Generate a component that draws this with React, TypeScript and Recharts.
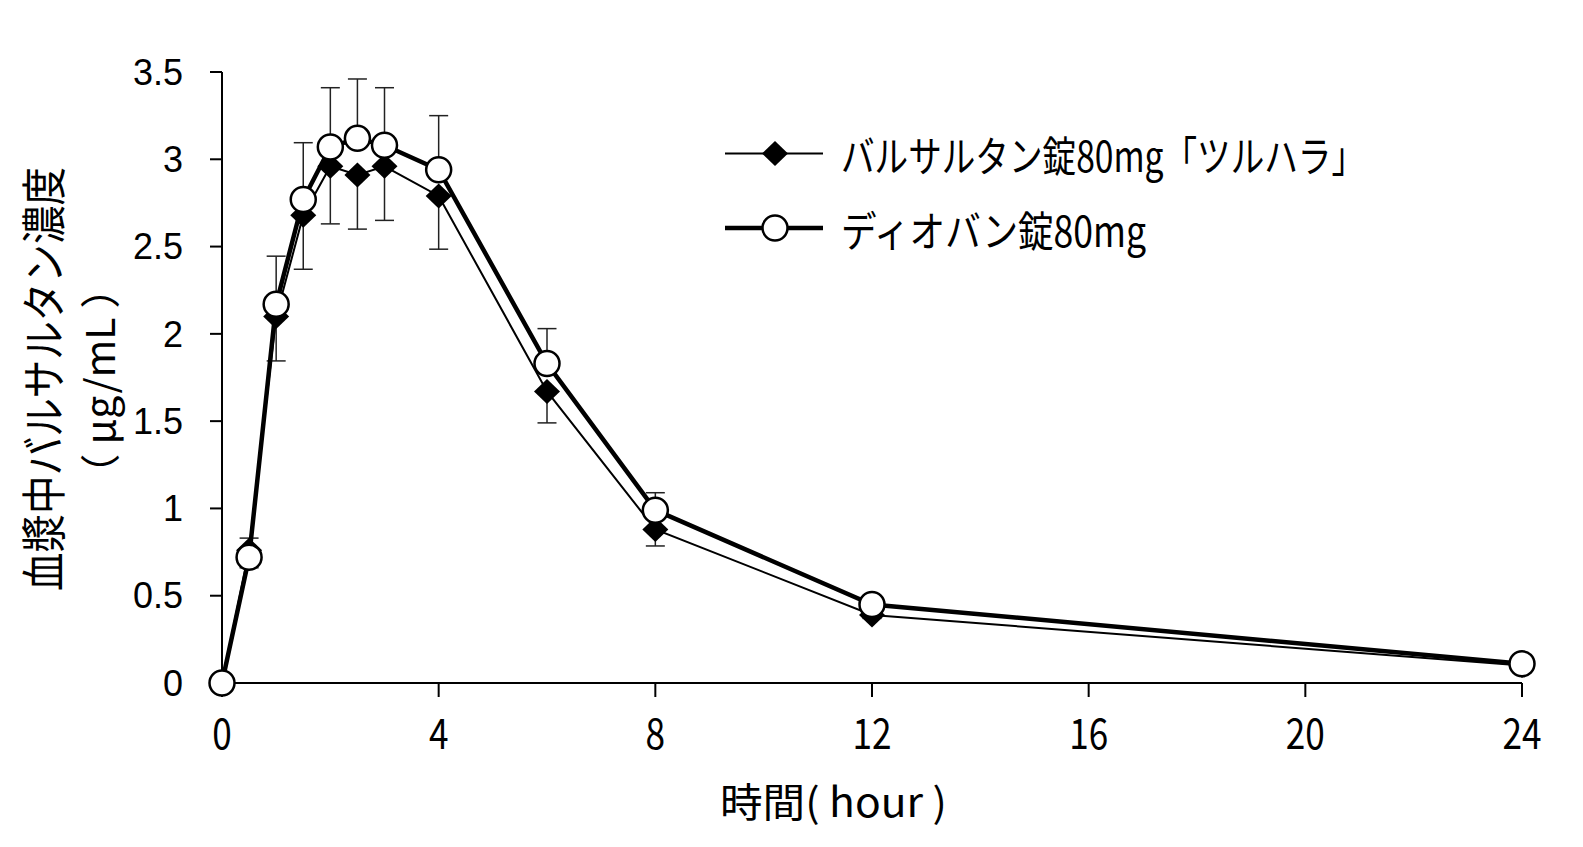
import { LineChart, Line, XAxis, YAxis, ErrorBar } from 'recharts';

// time after dosing (hour)
const hours = [0, 0.5, 1, 1.5, 2, 2.5, 3, 4, 6, 8, 12, 24];

// バルサルタン錠80mg「ツルハラ」 (mean, SD shown downward)
const tsuruhara = [0, 0.76, 2.1, 2.68, 2.96, 2.91, 2.96, 2.79, 1.67, 0.88, 0.39, 0.1];
const tsuruharaSd = [0, 0.1, 0.255, 0.31, 0.33, 0.31, 0.31, 0.305, 0.18, 0.095, 0.02, 0.01];

// ディオバン錠80mg (mean, SD shown upward)
const diovan = [0, 0.72, 2.17, 2.77, 3.07, 3.12, 3.08, 2.94, 1.83, 0.99, 0.45, 0.11];
const diovanSd = [0, 0.11, 0.275, 0.325, 0.34, 0.34, 0.33, 0.31, 0.2, 0.1, 0.04, 0.02];

const xTicks = [0, 4, 8, 12, 16, 20, 24];
const yTicks = [0, 0.5, 1, 1.5, 2, 2.5, 3, 3.5];

const seriesNames = ['バルサルタン錠80mg「ツルハラ」', 'ディオバン錠80mg'];
const xTitle = '時間( hour )';
const yTitle = ['血漿中バルサルタン濃度', '（ μg/mL ）'];

const data = hours.map((h, i) => ({
  hour: h,
  tsuruhara: tsuruhara[i],
  tsuruharaErr: [tsuruharaSd[i], 0],
  diovan: diovan[i],
  diovanErr: [0, diovanSd[i]],
}));

const W = 1570;
const H = 835;
const JP = "'Noto Sans CJK JP', sans-serif";
const NARROW = "'Liberation Sans Narrow', 'Noto Sans CJK JP', sans-serif";

const Diamond = (props: any) => {
  const { cx, cy, index } = props;
  if (cx == null || cy == null) return <g key={`dm-${index}`} />;
  return (
    <path
      key={`dm-${index}`}
      d={`M${cx},${cy - 12.5}L${cx + 13},${cy}L${cx},${cy + 12.5}L${cx - 13},${cy}Z`}
      fill="#000"
    />
  );
};

const XTick = (props: any) => {
  const { x, y, payload } = props;
  const label = String(payload.value);
  return (
    <text
      x={x}
      y={y + 52}
      textAnchor="middle"
      fontSize={42}
      fontFamily={NARROW}
      fill="#000"
      textLength={label.length * 19.5}
      lengthAdjust="spacingAndGlyphs"
    >
      {label}
    </text>
  );
};

function Overlay() {
  return (
    <svg
      width={W}
      height={H}
      style={{ position: 'absolute', left: 0, top: 0, pointerEvents: 'none' }}
    >
      {/* legend */}
      <line x1={717} x2={815} y1={145.5} y2={145.5} stroke="#000" strokeWidth={2} />
      <path d="M767,133L780,145.5L767,158L754,145.5Z" fill="#000" />
      <text
        x={833}
        y={145.5}
        dominantBaseline="central"
        fontSize={42}
        fontFamily={JP}
        textLength={524}
        lengthAdjust="spacingAndGlyphs"
      >
        {seriesNames[0]}
      </text>
      <line x1={717} x2={815} y1={220} y2={220} stroke="#000" strokeWidth={4.5} />
      <circle cx={767} cy={220} r={12.5} fill="#fff" stroke="#000" strokeWidth={2.5} />
      <text
        x={833}
        y={220}
        dominantBaseline="central"
        fontSize={42}
        fontFamily={JP}
        textLength={305}
        lengthAdjust="spacingAndGlyphs"
      >
        {seriesNames[1]}
      </text>

      {/* axis titles */}
      <text
        x={712}
        y={792}
        dominantBaseline="central"
        fontSize={40}
        fontFamily={JP}
        textLength={227}
        lengthAdjust="spacingAndGlyphs"
      >
        {xTitle}
      </text>
      <text
        x={33}
        y={371}
        transform="rotate(-90, 33, 371)"
        textAnchor="middle"
        dominantBaseline="central"
        fontSize={45}
        fontFamily={JP}
        textLength={424}
        lengthAdjust="spacingAndGlyphs"
      >
        {yTitle[0]}
      </text>
      <text
        x={90}
        y={373}
        transform="rotate(-90, 90, 373)"
        textAnchor="middle"
        dominantBaseline="central"
        fontSize={40}
        fontFamily={JP}
        textLength={227}
        lengthAdjust="spacingAndGlyphs"
      >
        {yTitle[1]}
      </text>
    </svg>
  );
}

export default function App() {
  return (
    <div style={{ position: 'relative', width: W, height: H, background: '#fff' }}>
      <LineChart
        width={W}
        height={H}
        data={data}
        margin={{ top: 64, right: 56, bottom: 100, left: 154 }}
      >
        <XAxis
          dataKey="hour"
          type="number"
          domain={[0, 24]}
          ticks={xTicks}
          height={60}
          axisLine={{ stroke: '#000', strokeWidth: 2 }}
          tickLine={{ stroke: '#000', strokeWidth: 2 }}
          tickSize={14}
          tickMargin={0}
          tick={<XTick />}
        />
        <YAxis
          type="number"
          domain={[0, 3.5]}
          ticks={yTicks}
          width={60}
          axisLine={{ stroke: '#000', strokeWidth: 2 }}
          tickLine={{ stroke: '#000', strokeWidth: 2 }}
          tickSize={12}
          tickMargin={27}
          tick={{ fill: '#000', fontSize: 36, fontFamily: "'Liberation Sans', Arial, sans-serif" }}
        />
        {/* error bars first so that the lines and markers sit on top of them */}
        <Line
          dataKey="tsuruhara"
          stroke="none"
          dot={false}
          activeDot={false}
          legendType="none"
          isAnimationActive={false}
        >
          <ErrorBar dataKey="tsuruharaErr" direction="y" width={9.5} stroke="#222" strokeWidth={1.5} />
        </Line>
        <Line
          dataKey="diovan"
          stroke="none"
          dot={false}
          activeDot={false}
          legendType="none"
          isAnimationActive={false}
        >
          <ErrorBar dataKey="diovanErr" direction="y" width={9.5} stroke="#222" strokeWidth={1.5} />
        </Line>
        <Line
          dataKey="tsuruhara"
          stroke="#000"
          strokeWidth={2}
          dot={Diamond}
          activeDot={false}
          isAnimationActive={false}
        />
        <Line
          dataKey="diovan"
          stroke="#000"
          strokeWidth={4.5}
          dot={{ r: 12.5, fill: '#fff', stroke: '#000', strokeWidth: 2.5 }}
          activeDot={false}
          isAnimationActive={false}
        />
      </LineChart>
      <Overlay />
    </div>
  );
}
